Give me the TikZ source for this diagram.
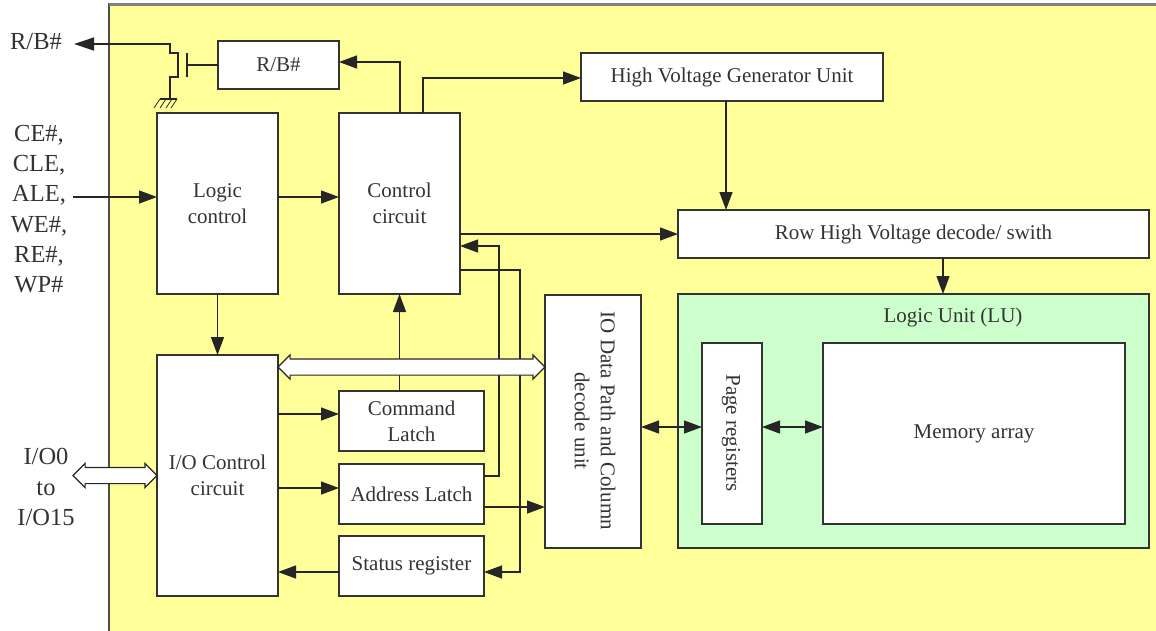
\documentclass[tikz,border=0pt]{standalone}
\usepackage{fontspec}
\setmainfont{Liberation Serif}
\usetikzlibrary{arrows.meta,shapes.arrows}
\definecolor{chipyellow}{HTML}{FFFF99}
\definecolor{lugreen}{HTML}{CCFFCC}
\definecolor{wiregray}{HTML}{333333}
\tikzset{
  blockbox/.style={draw=wiregray, line width=1.3pt, fill=white, anchor=north west, align=center, inner sep=0pt, outer sep=0pt, text=black!80, font=\fontsize{21}{26}\selectfont},
  blocktext/.style={align=center, inner sep=0pt, text=black!80, font=\fontsize{21}{26}\selectfont},
  pinlabel/.style={align=center, inner sep=0pt, text=black!80, font=\fontsize{24.5}{30.3}\selectfont},
  wire/.style={draw=black!85, line width=1.3pt},
  link/.style={wire, -{Triangle[length=18pt,width=13pt]}},
  twolink/.style={wire, {Triangle[length=18pt,width=13pt]}-{Triangle[length=18pt,width=13pt]}},
  busarrow/.style={draw=black!85, line width=1.2pt, fill=white, double arrow, inner sep=0pt, outer sep=0pt, text height=15pt, text depth=0pt, double arrow head extend=4pt, double arrow tip angle=90, minimum height=#1}
}
\begin{document}
\begin{tikzpicture}[x=1pt,y=-1pt]
\useasboundingbox (0,0) rectangle (1156,630);

\fill[white] (0,0) rectangle (1156,630);
\path[fill=chipyellow, draw=black!70, line width=1.5pt] (109,4) rectangle (1160,634);
\draw[black!50, line width=3pt] (109,4.5) -- (1156,4.5);

% blocks
\node[blockbox, minimum width=121pt, minimum height=48pt] (rbbox) at (218,41) {R/B\#};
\node[blockbox, minimum width=121pt, minimum height=181pt] (logic) at (157,113) {Logic\\control};
\node[blockbox, minimum width=121pt, minimum height=181pt] (ctrl) at (339,113) {Control\\circuit};
\node[blockbox, minimum width=302pt, minimum height=48pt] (hvgen) at (581,53) {High Voltage Generator Unit};
\node[blockbox, minimum width=471pt, minimum height=48pt] (rowdec) at (678,210) {Row High Voltage decode/ swith};
\node[blockbox, fill=lugreen, minimum width=471pt, minimum height=254pt] (lu) at (678,294) {};
\node[blocktext] (lutext) at (953,317) {Logic Unit (LU)};
\node[blockbox, minimum width=60pt, minimum height=181pt] (pagereg) at (702,343) {};
\node[blocktext, rotate=-90] (pagetext) at (731,433) {Page registers};
\node[blockbox, minimum width=302pt, minimum height=181pt] (memory) at (823,343) {Memory array};
\node[blockbox, minimum width=96pt, minimum height=253pt] (iodata) at (545,295) {};
\node[blocktext, rotate=-90] (iotext) at (595,421) {IO Data Path and Column\\decode unit};
\node[blockbox, minimum width=121pt, minimum height=241pt] (ioctrl) at (157,355) {I/O Control\\circuit};
\node[blockbox, minimum width=145pt, minimum height=60pt] (cmdlatch) at (339,391) {Command\\Latch};
\node[blockbox, minimum width=145pt, minimum height=60pt] (addrlatch) at (339,464) {Address Latch};
\node[blockbox, minimum width=145pt, minimum height=60pt] (status) at (339,536) {Status register};

% pin labels
\node[pinlabel] (rbpin) at (36,42) {R/B\#};
\node[pinlabel] (ctlpins) at (39,209) {CE\#,\\CLE,\\ALE,\\WE\#,\\RE\#,\\WP\#};
\node[pinlabel] (iopins) at (46,487) {I/O0\\to\\I/O15};

% transistor
\coordinate (rbend) at (74,44);
\coordinate (gnd) at (170,99);
\coordinate (gate) at (187,65);
\draw[wire, {Triangle[length=20pt,width=13pt]}-] (rbend) -- (170,44) -- (170,53) -- (178,53) -- (178,77) -- (170,77) -- (gnd);
\draw[wire] (187,53) -- (187,77);
\draw[wire] (gate |- rbbox.west) -- (rbbox.west);
\draw[wire] (160,99) -- (177,99);
\foreach \xpos in {160,166,172,177}
  \draw[wire, line width=0.8pt] (\xpos,99) -- (\xpos-6,108);

% wires
\coordinate (ctlin) at (73,197);
\draw[link] (ctlin) -- (ctlin -| logic.west);
\draw[link] (ctlin -| logic.east) -- (ctlin -| ctrl.west);
\draw[link] (ioctrl.north |- logic.south) -- (ioctrl.north);
\draw[link] (400,113) -- (400,62) -- (rbbox.east |- 0,62);
\draw[link] (423,113) -- (423,78) -- (hvgen.west |- 0,78);
\draw[link] (726,101) -- (726,210);
\draw[link] (ctrl.east |- rowdec.west) -- (rowdec.west);
\draw[link] (943,258) -- (943,294);
\draw[link] (cmdlatch.north -| ctrl.south) -- (ctrl.south);
\draw[link] (ioctrl.east |- 0,414) -- (cmdlatch.west |- 0,414);
\draw[link] (ioctrl.east |- 0,488) -- (addrlatch.west |- 0,488);
\draw[link] (status.west |- 0,572) -- (ioctrl.east |- 0,572);
\draw[link] (addrlatch.east |- 0,476) -- (499,476) -- (499,246) -- (ctrl.east |- 0,246);
\draw[link] (ctrl.east |- 0,270) -- (520,270) -- (520,572) -- (status.east |- 0,572);
\draw[link] (addrlatch.east |- 0,507) -- (iodata.west |- 0,507);
\draw[twolink] (iodata.east |- 0,427) -- (pagereg.west |- 0,427);
\draw[twolink] (pagereg.east |- 0,427) -- (memory.west |- 0,427);

% buses
\node[busarrow=267pt] (databus) at (411.5,367) {};
\node[busarrow=84pt] (iobus) at (115,475.5) {};
\end{tikzpicture}
\end{document}
